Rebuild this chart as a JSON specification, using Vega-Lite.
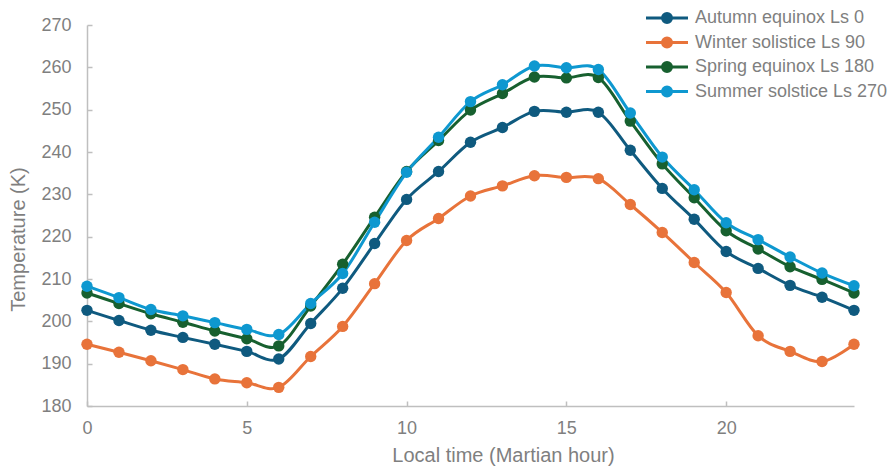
{
  "$schema": "https://vega.github.io/schema/vega-lite/v6.json",
  "autosize": {"type": "none"},
  "padding": {"left": 87, "top": 25, "right": 33, "bottom": 60},
  "width": 767,
  "height": 381,
  "background": "white",
  "config": {
    "view": {"stroke": null},
    "font": "Liberation Sans",
    "axis": {
      "grid": false,
      "domainColor": "#bfbfbf",
      "domainWidth": 1.5,
      "tickColor": "#bfbfbf",
      "tickWidth": 1.5,
      "labelColor": "#7f7f7f",
      "titleColor": "#7f7f7f",
      "labelFontSize": 18,
      "titleFontSize": 20,
      "titleFontWeight": "normal",
      "labelFont": "Liberation Sans",
      "titleFont": "Liberation Sans",
      "labelFlush": false
    }
  },
  "data": {
    "values": [
      {"hour": 0, "season": "Autumn equinox Ls 0", "temp": 202.6},
      {"hour": 1, "season": "Autumn equinox Ls 0", "temp": 200.2},
      {"hour": 2, "season": "Autumn equinox Ls 0", "temp": 197.9},
      {"hour": 3, "season": "Autumn equinox Ls 0", "temp": 196.2},
      {"hour": 4, "season": "Autumn equinox Ls 0", "temp": 194.6},
      {"hour": 5, "season": "Autumn equinox Ls 0", "temp": 192.9},
      {"hour": 6, "season": "Autumn equinox Ls 0", "temp": 191.1},
      {"hour": 7, "season": "Autumn equinox Ls 0", "temp": 199.5},
      {"hour": 8, "season": "Autumn equinox Ls 0", "temp": 207.8},
      {"hour": 9, "season": "Autumn equinox Ls 0", "temp": 218.4},
      {"hour": 10, "season": "Autumn equinox Ls 0", "temp": 228.8},
      {"hour": 11, "season": "Autumn equinox Ls 0", "temp": 235.4},
      {"hour": 12, "season": "Autumn equinox Ls 0", "temp": 242.3},
      {"hour": 13, "season": "Autumn equinox Ls 0", "temp": 245.8},
      {"hour": 14, "season": "Autumn equinox Ls 0", "temp": 249.6},
      {"hour": 15, "season": "Autumn equinox Ls 0", "temp": 249.4},
      {"hour": 16, "season": "Autumn equinox Ls 0", "temp": 249.4},
      {"hour": 17, "season": "Autumn equinox Ls 0", "temp": 240.4},
      {"hour": 18, "season": "Autumn equinox Ls 0", "temp": 231.4},
      {"hour": 19, "season": "Autumn equinox Ls 0", "temp": 224.1},
      {"hour": 20, "season": "Autumn equinox Ls 0", "temp": 216.5},
      {"hour": 21, "season": "Autumn equinox Ls 0", "temp": 212.5},
      {"hour": 22, "season": "Autumn equinox Ls 0", "temp": 208.5},
      {"hour": 23, "season": "Autumn equinox Ls 0", "temp": 205.7},
      {"hour": 24, "season": "Autumn equinox Ls 0", "temp": 202.6},
      {"hour": 0, "season": "Winter solistice Ls 90", "temp": 194.6},
      {"hour": 1, "season": "Winter solistice Ls 90", "temp": 192.7},
      {"hour": 2, "season": "Winter solistice Ls 90", "temp": 190.7},
      {"hour": 3, "season": "Winter solistice Ls 90", "temp": 188.6},
      {"hour": 4, "season": "Winter solistice Ls 90", "temp": 186.4},
      {"hour": 5, "season": "Winter solistice Ls 90", "temp": 185.5},
      {"hour": 6, "season": "Winter solistice Ls 90", "temp": 184.4},
      {"hour": 7, "season": "Winter solistice Ls 90", "temp": 191.7},
      {"hour": 8, "season": "Winter solistice Ls 90", "temp": 198.8},
      {"hour": 9, "season": "Winter solistice Ls 90", "temp": 208.9},
      {"hour": 10, "season": "Winter solistice Ls 90", "temp": 219.1},
      {"hour": 11, "season": "Winter solistice Ls 90", "temp": 224.3},
      {"hour": 12, "season": "Winter solistice Ls 90", "temp": 229.6},
      {"hour": 13, "season": "Winter solistice Ls 90", "temp": 232.0},
      {"hour": 14, "season": "Winter solistice Ls 90", "temp": 234.4},
      {"hour": 15, "season": "Winter solistice Ls 90", "temp": 234.0},
      {"hour": 16, "season": "Winter solistice Ls 90", "temp": 233.7},
      {"hour": 17, "season": "Winter solistice Ls 90", "temp": 227.6},
      {"hour": 18, "season": "Winter solistice Ls 90", "temp": 221.0},
      {"hour": 19, "season": "Winter solistice Ls 90", "temp": 213.9},
      {"hour": 20, "season": "Winter solistice Ls 90", "temp": 206.8},
      {"hour": 21, "season": "Winter solistice Ls 90", "temp": 196.6},
      {"hour": 22, "season": "Winter solistice Ls 90", "temp": 192.9},
      {"hour": 23, "season": "Winter solistice Ls 90", "temp": 190.5},
      {"hour": 24, "season": "Winter solistice Ls 90", "temp": 194.6},
      {"hour": 0, "season": "Spring equinox Ls 180", "temp": 206.7},
      {"hour": 1, "season": "Spring equinox Ls 180", "temp": 204.2},
      {"hour": 2, "season": "Spring equinox Ls 180", "temp": 201.8},
      {"hour": 3, "season": "Spring equinox Ls 180", "temp": 199.8},
      {"hour": 4, "season": "Spring equinox Ls 180", "temp": 197.7},
      {"hour": 5, "season": "Spring equinox Ls 180", "temp": 195.9},
      {"hour": 6, "season": "Spring equinox Ls 180", "temp": 194.2},
      {"hour": 7, "season": "Spring equinox Ls 180", "temp": 203.6},
      {"hour": 8, "season": "Spring equinox Ls 180", "temp": 213.5},
      {"hour": 9, "season": "Spring equinox Ls 180", "temp": 224.6},
      {"hour": 10, "season": "Spring equinox Ls 180", "temp": 235.4},
      {"hour": 11, "season": "Spring equinox Ls 180", "temp": 242.7},
      {"hour": 12, "season": "Spring equinox Ls 180", "temp": 249.9},
      {"hour": 13, "season": "Spring equinox Ls 180", "temp": 253.8},
      {"hour": 14, "season": "Spring equinox Ls 180", "temp": 257.7},
      {"hour": 15, "season": "Spring equinox Ls 180", "temp": 257.5},
      {"hour": 16, "season": "Spring equinox Ls 180", "temp": 257.6},
      {"hour": 17, "season": "Spring equinox Ls 180", "temp": 247.3},
      {"hour": 18, "season": "Spring equinox Ls 180", "temp": 237.2},
      {"hour": 19, "season": "Spring equinox Ls 180", "temp": 229.2},
      {"hour": 20, "season": "Spring equinox Ls 180", "temp": 221.4},
      {"hour": 21, "season": "Spring equinox Ls 180", "temp": 217.1},
      {"hour": 22, "season": "Spring equinox Ls 180", "temp": 212.9},
      {"hour": 23, "season": "Spring equinox Ls 180", "temp": 209.9},
      {"hour": 24, "season": "Spring equinox Ls 180", "temp": 206.7},
      {"hour": 0, "season": "Summer solstice Ls 270", "temp": 208.3},
      {"hour": 1, "season": "Summer solstice Ls 270", "temp": 205.6},
      {"hour": 2, "season": "Summer solstice Ls 270", "temp": 202.8},
      {"hour": 3, "season": "Summer solstice Ls 270", "temp": 201.3},
      {"hour": 4, "season": "Summer solstice Ls 270", "temp": 199.7},
      {"hour": 5, "season": "Summer solstice Ls 270", "temp": 198.1},
      {"hour": 6, "season": "Summer solstice Ls 270", "temp": 196.9},
      {"hour": 7, "season": "Summer solstice Ls 270", "temp": 204.2},
      {"hour": 8, "season": "Summer solstice Ls 270", "temp": 211.3},
      {"hour": 9, "season": "Summer solstice Ls 270", "temp": 223.4},
      {"hour": 10, "season": "Summer solstice Ls 270", "temp": 235.2},
      {"hour": 11, "season": "Summer solstice Ls 270", "temp": 243.5},
      {"hour": 12, "season": "Summer solstice Ls 270", "temp": 251.9},
      {"hour": 13, "season": "Summer solstice Ls 270", "temp": 255.9},
      {"hour": 14, "season": "Summer solstice Ls 270", "temp": 260.3},
      {"hour": 15, "season": "Summer solstice Ls 270", "temp": 259.9},
      {"hour": 16, "season": "Summer solstice Ls 270", "temp": 259.5},
      {"hour": 17, "season": "Summer solstice Ls 270", "temp": 249.2},
      {"hour": 18, "season": "Summer solstice Ls 270", "temp": 238.8},
      {"hour": 19, "season": "Summer solstice Ls 270", "temp": 231.1},
      {"hour": 20, "season": "Summer solstice Ls 270", "temp": 223.3},
      {"hour": 21, "season": "Summer solstice Ls 270", "temp": 219.3},
      {"hour": 22, "season": "Summer solstice Ls 270", "temp": 215.2},
      {"hour": 23, "season": "Summer solstice Ls 270", "temp": 211.4},
      {"hour": 24, "season": "Summer solstice Ls 270", "temp": 208.4}
    ]
  },
  "mark": {
    "type": "line",
    "interpolate": "cardinal",
    "strokeWidth": 3,
    "point": {"filled": true, "size": 130, "opacity": 1}
  },
  "encoding": {
    "x": {
      "field": "hour",
      "type": "quantitative",
      "scale": {"domain": [0, 24], "nice": false, "zero": false},
      "axis": {
        "title": "Local time (Martian hour)",
        "values": [0, 5, 10, 15, 20],
        "tickSize": -5,
        "labelPadding": 18,
        "titleX": 416,
        "titleY": 49,
        "titleBaseline": "middle",
        "titleAlign": "center"
      }
    },
    "y": {
      "field": "temp",
      "type": "quantitative",
      "scale": {"domain": [180, 270], "nice": false, "zero": false},
      "axis": {
        "title": "Temperature (K)",
        "values": [180, 190, 200, 210, 220, 230, 240, 250, 260, 270],
        "tickSize": -5,
        "labelPadding": 21,
        "titleX": -69,
        "titleY": 214,
        "titleBaseline": "middle",
        "titleAlign": "center"
      }
    },
    "color": {
      "field": "season",
      "type": "nominal",
      "sort": ["Autumn equinox Ls 0", "Winter solistice Ls 90", "Spring equinox Ls 180", "Summer solstice Ls 270"],
      "scale": {
        "domain": ["Autumn equinox Ls 0", "Winter solistice Ls 90", "Spring equinox Ls 180", "Summer solstice Ls 270"],
        "range": ["#0f5a7f", "#e8733a", "#17602f", "#0e98d0"]
      },
      "legend": {
        "title": null,
        "orient": "none",
        "legendX": 571,
        "legendY": -16,
        "symbolType": "M-4.2,0L4.2,0M0.9,0A0.9,0.9,0,1,1,-0.9,0A0.9,0.9,0,1,1,0.9,0Z",
        "symbolSize": 100,
        "symbolStrokeWidth": 3,
        "labelOffset": 19,
        "labelFontSize": 18,
        "labelLimit": 400,
        "labelColor": "#7f7f7f",
        "labelFont": "Liberation Sans",
        "rowPadding": 2.5,
        "padding": 0,
        "encode": {
          "symbols": {
            "update": {
              "fill": {"scale": "color", "field": "value"},
              "stroke": {"scale": "color", "field": "value"},
              "fillOpacity": {"value": 1},
              "opacity": {"value": 1}
            }
          }
        }
      }
    }
  }
}
